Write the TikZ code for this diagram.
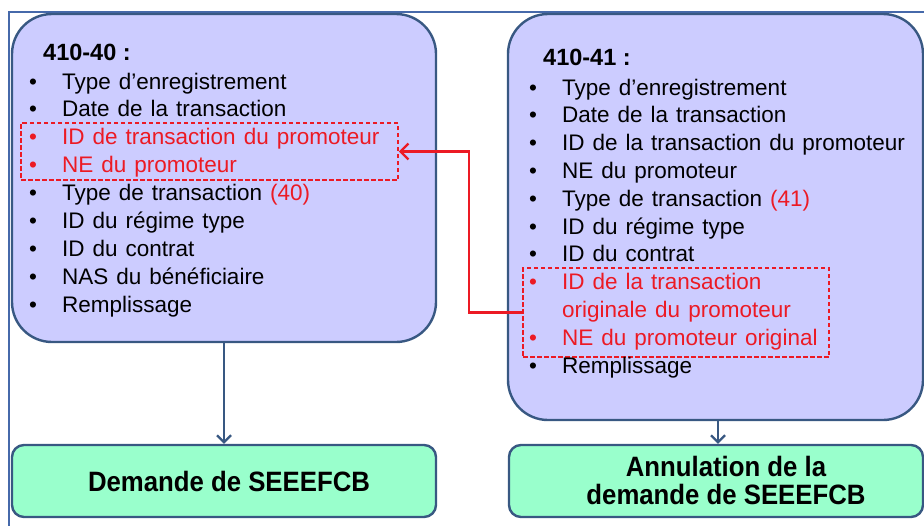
\documentclass[tikz,border=0pt]{standalone}
\usepackage{fontspec}
\setmainfont{Liberation Sans}
\usetikzlibrary{arrows.meta}
\definecolor{lav}{RGB}{204,204,255}
\definecolor{boxblue}{RGB}{56,88,130}
\definecolor{grn}{RGB}{153,255,204}
\definecolor{framblue}{RGB}{70,105,170}
\definecolor{myred}{RGB}{236,26,36}
\newcommand{\blt}{\makebox[33pt][l]{\textbullet}}
\newcommand{\grtxt}[1]{\scalebox{0.92}[1]{#1}}
\newcommand{\itemfont}{\fontsize{22.5}{28}\selectfont\spaceskip=8pt plus 1pt\relax}
\tikzset{
  x=1pt, y=-1pt,
  bigbox/.style={draw=boxblue, fill=lav, line width=2.4pt, rounded corners=40pt, inner sep=0pt},
  grnbox/.style={draw=boxblue, fill=grn, line width=2.4pt, rounded corners=12pt, inner sep=0pt},
  item/.style={anchor=base west, inner sep=0pt, font=\itemfont},
  redit/.style={item, text=myred},
  ttl/.style={anchor=base west, inner sep=0pt, font=\fontsize{23.5}{28}\selectfont\bfseries},
  dbox/.style={draw=myred, dash pattern=on 4.5pt off 2.5pt, line width=1.5pt, inner sep=0pt},
  conn/.style={draw=boxblue, line width=2.2pt, -{Straight Barb[length=7pt,width=14pt,line width=2.2pt]}},
  redconn/.style={draw=myred, line width=2.4pt, -{Straight Barb[length=8pt,width=16pt,line width=2.4pt]}},
  gtxt/.style={align=center, inner sep=0pt, font=\fontsize{28}{28}\selectfont\bfseries},
  frame/.style={draw=framblue, line width=2.4pt}
}
\begin{document}
\begin{tikzpicture}
\useasboundingbox (0,0) rectangle (924,525);
\draw[frame] (9,540) -- (9,12) -- (940,12);

% big boxes
\node[bigbox, minimum width=424pt, minimum height=328pt] (L) at (224,178) {};
\node[bigbox, minimum width=415pt, minimum height=406pt] (R) at (715.5,217) {};

% green boxes
\node[grnbox, minimum width=424pt, minimum height=72pt] (GL) at (224,481) {};
\node[grnbox, minimum width=414pt, minimum height=72pt] (GR) at (716,481) {};
\node[gtxt, anchor=base] (gl) at (229,491) {\grtxt{Demande de SEEEFCB}};
\node[gtxt, anchor=base] (gr) at (726,504) {\grtxt{Annulation de la}\\\grtxt{demande de SEEEFCB}};

% dashed boxes
\node[dbox, minimum width=377pt, minimum height=57pt] (LD) at (209.5,151.5) {};
\node[dbox, minimum width=306pt, minimum height=89pt] (RD) at (676,312.5) {};

% left box text
\node[ttl] (lt) at (43,60) {410-40 :};
\node[item] (l1) at (29,89) {\blt Type d’enregistrement};
\node[item] (l2) at (29,116.9) {\blt Date de la transaction};
\node[redit] (l3) at (29,144.75) {\blt ID de transaction du promoteur};
\node[redit] (l4) at (29,172.6) {\blt NE du promoteur};
\node[item] (l5) at (29,200.5) {\blt Type de transaction \textcolor{myred}{(40)}};
\node[item] (l6) at (29,228.4) {\blt ID du régime type};
\node[item] (l7) at (29,256.25) {\blt ID du contrat};
\node[item] (l8) at (29,284.1) {\blt NAS du bénéficiaire};
\node[item] (l9) at (29,312) {\blt Remplissage};

% right box text
\node[ttl] (rt) at (543,65) {410-41 :};
\node[item] (r1) at (529,95) {\blt Type d’enregistrement};
\node[item] (r2) at (529,122.8) {\blt Date de la transaction};
\node[item] (r3) at (529,150.6) {\blt ID de la transaction du promoteur};
\node[item] (r4) at (529,178.4) {\blt NE du promoteur};
\node[item] (r5) at (529,206.2) {\blt Type de transaction \textcolor{myred}{(41)}};
\node[item] (r6) at (529,234) {\blt ID du régime type};
\node[item] (r7) at (529,261.8) {\blt ID du contrat};
\node[redit, align=left] (r8) at (529,317.4) {\blt ID de la transaction\\\hspace*{33pt}originale du promoteur};
\node[redit] (r9) at (529,345.2) {\blt NE du promoteur original};
\node[item] (r10) at (529,373) {\blt Remplissage};

% connectors
\draw[conn] (L.south) -- (GL.north);
\draw[conn] (R.south -| GR.north) ++(2,0) coordinate (rs) -- (rs |- GR.north);
\draw[redconn] (RD.west) -- ++(-53,0) |- (LD.east);
\end{tikzpicture}
\end{document}
